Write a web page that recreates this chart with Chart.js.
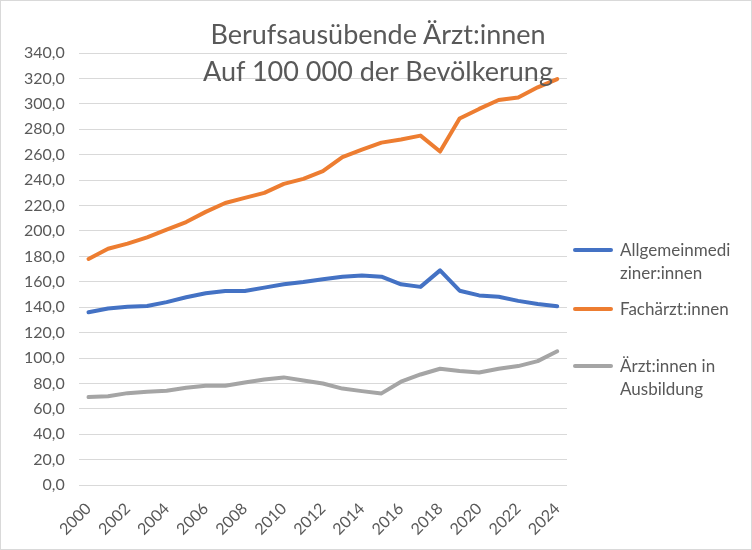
<!DOCTYPE html>
<html lang="de">
<head>
<meta charset="utf-8">
<script src="https://cdn.jsdelivr.net/npm/chart.js@4.4.1/dist/chart.umd.min.js"></script>
<style>
  body { margin: 0; background: #fff; }
  #wrap { position: relative; width: 752px; height: 550px; font-family: Lato, sans-serif; color: #595959; }
  #wrap canvas { position: absolute; left: 0; top: 0; }
  #frame { position: absolute; left: 0; top: 0; width: 752px; height: 550px; box-sizing: border-box; border: 1px solid #d9d9d9; pointer-events: none; }
  #title { position: absolute; left: 0; width: 752px; top: 15px; text-align: center; font-size: 27px; line-height: 37px; padding-left: 2px; }
  .leg { position: absolute; left: 573px; font-size: 17px; line-height: 23px; }
  .leg i { position: absolute; left: 0; top: 10px; width: 40px; height: 4px; border-radius: 2px; }
  .leg span { display: block; margin-left: 47px; }
</style>
</head>
<body>
<div id="wrap">
  <canvas id="chart" width="752" height="550"></canvas>
  <div id="title">Berufsausübende Ärzt:innen<br>Auf 100 000 der Bevölkerung</div>
  <div class="leg" style="top:238px"><i style="background:#4472C4"></i><span>Allgemeinmedi<br>ziner:innen</span></div>
  <div class="leg" style="top:297px"><i style="background:#ED7D31"></i><span>Fachärzt:innen</span></div>
  <div class="leg" style="top:354px"><i style="background:#A5A5A5"></i><span>Ärzt:innen in<br>Ausbildung</span></div>
  <div id="frame"></div>
</div>
<script>
const years = ['2000','2001','2002','2003','2004','2005','2006','2007','2008','2009','2010','2011','2012',
               '2013','2014','2015','2016','2017','2018','2019','2020','2021','2022','2023','2024'];
const allgemein = [136, 139, 140.4, 141, 144, 147.8, 151, 152.7, 152.7, 155.4, 158, 159.8, 162,
                   164, 165, 164, 158, 156, 169, 153, 149.3, 148.3, 145, 142.5, 140.7];
const fachaerzte = [178, 186, 190, 195, 201, 207, 215, 222, 226, 230, 237, 241, 247,
                    258, 264, 269.5, 272, 275, 262.5, 288.5, 296, 303, 305, 313, 319.5];
const ausbildung = [69.3, 70, 72.4, 73.5, 74.3, 76.6, 78.2, 78.2, 80.8, 83.2, 84.8, 82.4, 80,
                    76, 74, 72.2, 81.4, 87.1, 91.6, 89.8, 88.7, 91.6, 93.7, 97.6, 105.3];
const seriesNames = ['Allgemeinmediziner:innen', 'Fachärzt:innen', 'Ärzt:innen in Ausbildung'];
const seriesColors = ['#4472C4', '#ED7D31', '#A5A5A5'];

const font = { family: 'Lato, sans-serif', size: 16 };
const mkSet = (i, data) => ({
    label: seriesNames[i],
    data: data,
    borderColor: seriesColors[i],
    backgroundColor: seriesColors[i],
    borderWidth: 4,
    pointRadius: 0,
    tension: 0,
    borderCapStyle: 'round',
    borderJoinStyle: 'round'
});

new Chart(document.getElementById('chart'), {
    type: 'line',
    data: {
        labels: years,
        datasets: [mkSet(0, allgemein), mkSet(1, fachaerzte), mkSet(2, ausbildung)]
    },
    options: {
        responsive: false,
        animation: false,
        layout: { padding: { left: 10, right: 185, top: 53, bottom: 5 } },
        plugins: {
            legend: { display: false },
            title: { display: false },
            tooltip: { enabled: false }
        },
        scales: {
            x: {
                offset: true,
                grid: { display: false },
                border: { display: false },
                ticks: {
                    color: '#595959',
                    font: font,
                    autoSkip: false,
                    minRotation: 45,
                    maxRotation: 45,
                    padding: 6,
                    callback: (v, i) => i % 2 === 0 ? years[i] : ''
                }
            },
            y: {
                min: 0,
                max: 340,
                grid: { color: '#d9d9d9', lineWidth: 1, drawTicks: false },
                border: { display: false },
                ticks: {
                    stepSize: 20,
                    color: '#595959',
                    font: font,
                    padding: 14,
                    callback: v => v.toFixed(1).replace('.', ',')
                }
            }
        }
    }
});
</script>
</body>
</html>
